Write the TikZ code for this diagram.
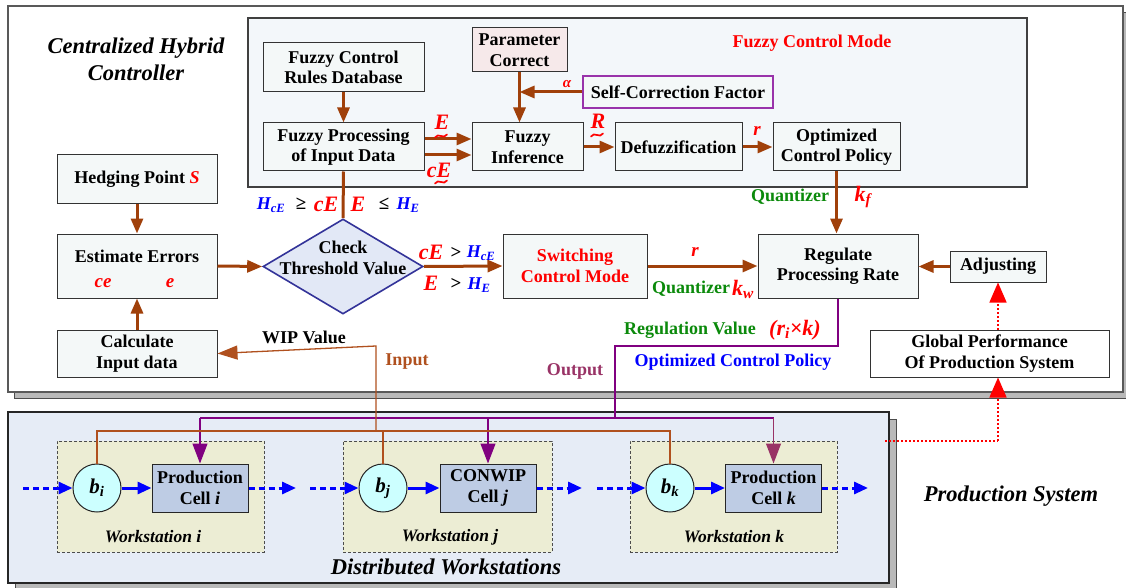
\documentclass[tikz,border=0pt]{standalone}
\usepackage{fontspec}
\IfFontExistsTF{LiberationSerif-Regular.ttf}{%
\setmainfont{LiberationSerif}[Extension=.ttf, UprightFont=*-Regular, BoldFont=*-Bold, ItalicFont=*-Italic, BoldItalicFont=*-BoldItalic]}{%
\setmainfont{Liberation Serif}}
\usetikzlibrary{arrows.meta,shapes.geometric,calc}
\definecolor{brn}{HTML}{A0400A}
\definecolor{wipbrn}{HTML}{B0501E}
\definecolor{bxfill}{HTML}{F4F8F8}
\definecolor{fcmfill}{HTML}{F3F7FA}
\definecolor{pinkfill}{HTML}{F6E9EA}
\definecolor{dmfill}{HTML}{E2E8F6}
\definecolor{dmdraw}{HTML}{333399}
\definecolor{distfill}{HTML}{E6ECF6}
\definecolor{wsfill}{HTML}{ECEDD4}
\definecolor{cellfill}{HTML}{BECCE4}
\definecolor{circfill}{HTML}{CCFFFF}
\definecolor{grn}{HTML}{0B8A0B}
\definecolor{purp}{HTML}{800080}
\definecolor{outp}{HTML}{993366}
\definecolor{selfpurp}{HTML}{9933AA}
\newcommand\bxf{\fontsize{18}{20.5}\selectfont\bfseries}
\newcommand\lblf{\fontsize{22}{24}\selectfont\bfseries\itshape}
\newcommand\hf{\fontsize{18}{20}\selectfont\bfseries\itshape}
\newcommand\wsf{\fontsize{17.5}{20}\selectfont\bfseries\itshape}
\newcommand\ttlf{\fontsize{22.5}{27}\selectfont\bfseries\itshape}
\begin{document}
\begin{tikzpicture}[x=1pt,y=-1pt,
  box/.style={draw=black!80, fill=bxfill, line width=1pt, align=center, inner sep=1pt, font=\bxf},
  frame/.style={draw=black!65, line width=1.2pt, inner sep=0},
  shadowbox/.style={fill=gray!55, draw=black!70, line width=0.8pt},
  barrow/.style={draw=brn, line width=3pt, -{Triangle[length=15pt,width=12pt]}},
  bline/.style={draw=brn, line width=3pt},
  wipline/.style={draw=wipbrn, line width=1.3pt},
  pline/.style={draw=purp, line width=1.3pt},
  parrow/.style={draw=purp, line width=1.3pt, -{Triangle[length=20pt,width=15pt]}},
  bsolid/.style={draw=blue, line width=3pt, -{Triangle[length=14pt,width=12pt]}},
  bdot/.style={bsolid, dash pattern=on 6pt off 4pt},
  rdot/.style={draw=red, line width=1.5pt, dash pattern=on 2pt off 2pt},
  rarrow/.style={rdot, -{Triangle[length=20pt,width=17pt]}},
  wsbox/.style={draw=black!70, fill=wsfill, dash pattern=on 3pt off 2pt, line width=1pt, inner sep=0},
  cellbox/.style={draw=black!85, fill=cellfill, line width=1pt, align=center, inner sep=1pt, font=\bxf, minimum width=96pt, minimum height=48pt},
  buf/.style={circle, draw=black!85, fill=circfill, line width=1pt, minimum size=48pt, inner sep=0, font=\fontsize{21}{24}\selectfont\bfseries\itshape},
  txt/.style={inner sep=0, align=center},
  tildemark/.pic={\draw[red, line width=1.7pt, line cap=round] (-6,1.5) .. controls (-3,-4) and (3,4) .. (6,-1.5);}
]
\useasboundingbox (0,0) rectangle (1126,588);
% ---- frames and shadows
\fill[shadowbox] (14,12) rectangle (1129,398);
\node[frame, fill=white, minimum width=1115pt, minimum height=386pt] (ctrl) at (565.5,199) {};
\fill[shadowbox] (15,419) rectangle (896,590);
\node[frame, draw=black!85, fill=distfill, minimum width=881pt, minimum height=171pt] (dist) at (448.5,497.5) {};
\node[frame, draw=black!75, fill=fcmfill, minimum width=779pt, minimum height=169pt] (fcm) at (637.5,102.5) {};

% ---- titles
\node[txt, font=\ttlf] (ttlctrl) at (136,59) {Centralized Hybrid\\Controller};
\node[txt, font=\bxf, text=red] (ttlfcm) at (812,43) {Fuzzy Control Mode};
\node[txt, font=\ttlf] (ttldist) at (446,567) {Distributed Workstations};
\node[txt, font=\ttlf] (ttlps) at (1011,496) {Production System};

% ---- fuzzy control mode nodes
\node[box, minimum width=161pt, minimum height=49pt] (rules) at (343.5,67.5) {Fuzzy Control\\Rules Database};
\node[box, minimum width=161pt, minimum height=48pt] (proc) at (343.5,147) {Fuzzy Processing\\of Input Data};
\node[box, fill=pinkfill, minimum width=95pt, minimum height=44pt] (param) at (519.5,50) {Parameter\\Correct};
\node[box, draw=selfpurp, line width=1.3pt, minimum width=190pt, minimum height=32pt] (self) at (678,92) {Self-Correction Factor};
\node[box, minimum width=111pt, minimum height=48pt] (infer) at (527.5,147) {Fuzzy\\Inference};
\node[box, minimum width=127pt, minimum height=48pt] (defuzz) at (678.5,147) {Defuzzification};
\node[box, minimum width=127pt, minimum height=48pt] (ocp) at (836.5,147) {Optimized\\Control Policy};

% ---- left column
\node[box, minimum width=160pt, minimum height=48pt] (hedge) at (137,179) {Hedging Point \textcolor{red}{\itshape S}};
\node[box, minimum width=160pt, minimum height=64pt] (est) at (137,266) {};
\node[txt, font=\bxf] (esttxt) at (137,256) {Estimate Errors};
\node[txt, font=\fontsize{19}{21}\selectfont\bfseries\itshape, text=red] (ce) at (103,283) {ce};
\node[txt, font=\fontsize{19}{21}\selectfont\bfseries\itshape, text=red] (ee) at (170,283) {e};
\node[box, minimum width=160pt, minimum height=47pt] (calc) at (137,353.5) {Calculate\\Input data};

% ---- diamond
\node[diamond, draw=dmdraw, fill=dmfill, line width=1.6pt, minimum width=160pt, minimum height=95pt, inner sep=0] (check) at (343,266.5) {};
\node[txt, font=\bxf] (checktxt) at (343,258) {Check\\Threshold Value};

% ---- middle/right
\node[box, text=red, minimum width=144pt, minimum height=64pt] (switch) at (575,266) {Switching\\Control Mode};
\node[box, minimum width=160pt, minimum height=64pt] (reg) at (838,266) {Regulate\\Processing Rate};
\node[box, minimum width=96pt, minimum height=31pt] (adj) at (998,266.5) {Adjusting};
\node[box, fill=white, minimum width=239pt, minimum height=47pt] (glob) at (989.5,353.5) {Global Performance\\Of Production System};

% ---- workstations
\node[wsbox, minimum width=207pt, minimum height=111pt] (wsi) at (160.5,496.5) {};
\node[wsbox, minimum width=209pt, minimum height=111pt] (wsj) at (447.5,496.5) {};
\node[wsbox, minimum width=207pt, minimum height=111pt] (wsk) at (733.5,496.5) {};
\node[txt, font=\wsf] (wsilbl) at (153,537) {Workstation i};
\node[txt, font=\wsf] (wsjlbl) at (450,537) {Workstation j};
\node[txt, font=\wsf] (wsklbl) at (734,537) {Workstation k};
\node[buf] (bi) at (97,488) {b\textsubscript{i}};
\node[buf] (bj) at (383,488) {b\textsubscript{j}};
\node[buf] (bk) at (670,488) {b\textsubscript{k}};
\node[cellbox] (celli) at (200,488) {Production\\Cell \textit{i}};
\node[cellbox] (cellj) at (488,488) {CONWIP\\Cell \textit{j}};
\node[cellbox] (cellk) at (773.5,488) {Production\\Cell \textit{k}};

% ---- fuzzy connectors
\draw[barrow] (rules.south) -- (proc.north);
\draw[barrow] ([yshift=8pt]proc.east) -- ([yshift=8pt]infer.west);
\draw[barrow] ([yshift=-8pt]proc.east) -- ([yshift=-8pt]infer.west);
\draw[barrow] (param.south) -- (param.south |- infer.north);
\draw[barrow] (self.west) -- (param.south |- self.west);
\draw[barrow] (infer.east) -- (defuzz.west);
\draw[barrow] (defuzz.east) -- (ocp.west);
\draw[barrow] (ocp.south) -- (ocp.south |- reg.north);
\draw[bline] (proc.south) -- (check.north);
\draw[barrow] (hedge.south) -- (est.north);
\draw[barrow] (calc.north) -- (est.south);
\draw[barrow] (est.east) -- (check.west);
\draw[barrow] (check.east) -- (switch.west);
\draw[barrow] (switch.east) -- (reg.west);
\draw[barrow] (adj.west) -- (adj.west -| reg.east);

% ---- red feedback
\coordinate (rd1) at (885,441);
\coordinate (rd2) at (998,441);
\draw[rdot] (rd1) -- (rd2);
\draw[rarrow] (rd2) -- (rd2 |- glob.south);
\draw[rarrow] (adj.south |- glob.north) -- (adj.south);

% ---- purple output
\coordinate (o1) at (615,346);
\coordinate (o2) at (615,418);
\draw[pline] (reg.south) |- (o1) -- (o2);
\draw[pline] (celli.north |- o2) -- (cellk.north |- o2);
\draw[parrow] (celli.north |- o2) -- (celli.north);
\draw[parrow] (cellj.north |- o2) -- (cellj.north);
\draw[parrow, draw=outp] (cellk.north |- o2) -- (cellk.north);

% ---- WIP input
\coordinate (w1) at (376,346);
\coordinate (w2) at (376,431);
\draw[wipline, -{Triangle[length=20pt,width=14pt]}] (w2) -- (w1) -- (calc.east);
\draw[wipline] (bi.north) |- (w2);
\draw[wipline] (w2) -| (bk.north);
\draw[wipline] (bj.north) -- (bj.north |- w2);

% ---- blue flow
\coordinate (fi0) at (23,488);
\coordinate (fi1) at (296,488);
\coordinate (fj0) at (310,488);
\coordinate (fj1) at (582,488);
\coordinate (fk0) at (597,488);
\coordinate (fk1) at (868,488);
\draw[bdot] (fi0) -- (bi.west);
\draw[bsolid] (bi.east) -- (celli.west);
\draw[bdot] (celli.east) -- (fi1);
\draw[bdot] (fj0) -- (bj.west);
\draw[bsolid] (bj.east) -- (cellj.west);
\draw[bdot] (cellj.east) -- (fj1);
\draw[bdot] (fk0) -- (bk.west);
\draw[bsolid] (bk.east) -- (cellk.west);
\draw[bdot] (cellk.east) -- (fk1);

% ---- labels
\node[txt, font=\lblf, text=red] (lE) at (442,122) {E};
\pic at (441,136) {tildemark};
\node[txt, font=\lblf, text=red] (lcE) at (439,170) {cE};
\pic at (441,182) {tildemark};
\node[txt, font=\lblf, text=red] (lR) at (598,121) {R};
\pic at (597,135) {tildemark};
\node[txt, font=\fontsize{19}{21}\selectfont\bfseries\itshape, text=red] (lr1) at (757,131) {r};
\node[txt, font=\fontsize{15}{17}\selectfont\bfseries\itshape, text=red] (lal) at (567,84) {α};

\node[txt, font=\hf, text=blue] (lH1) at (271,205) {H\textsubscript{cE}};
\node[txt, font=\fontsize{19}{20}\selectfont\bfseries] (lge) at (301,204) {≥};
\node[txt, font=\lblf, text=red] (lcE2) at (326,204) {cE};
\node[txt, font=\lblf, text=red] (lE2) at (358,204) {E};
\node[txt, font=\fontsize{19}{20}\selectfont\bfseries] (lle) at (384,204) {≤};
\node[txt, font=\hf, text=blue] (lH2) at (408,205) {H\textsubscript{E}};

\node[txt, font=\lblf, text=red] (lcE3) at (431,252) {cE};
\node[txt, font=\fontsize{19}{20}\selectfont\bfseries] (lgt1) at (456,253) {>};
\node[txt, font=\hf, text=blue] (lH3) at (481,253) {H\textsubscript{cE}};
\node[txt, font=\lblf, text=red] (lE3) at (431,283) {E};
\node[txt, font=\fontsize{19}{20}\selectfont\bfseries] (lgt2) at (456,284) {>};
\node[txt, font=\hf, text=blue] (lH4) at (479,285) {H\textsubscript{E}};

\node[txt, font=\fontsize{19}{21}\selectfont\bfseries\itshape, text=red] (lr2) at (695,252) {r};
\node[txt, font=\bxf, text=grn] (lq1) at (691,289) {Quantizer};
\node[txt, font=\lblf, text=red] (lkw) at (743,289) {k\textsubscript{w}};
\node[txt, font=\bxf, text=grn] (lq2) at (790,197) {Quantizer};
\node[txt, font=\lblf, text=red] (lkf) at (863,197) {k\textsubscript{f}};

\node[txt, font=\bxf, text=grn] (lreg) at (690,330) {Regulation Value};
\node[txt, font=\lblf, text=red] (lrk) at (795,330) {(r\textsubscript{i}×k)};
\node[txt, font=\bxf, text=blue] (locp) at (733,362) {Optimized Control Policy};
\node[txt, font=\bxf, text=outp] (lout) at (575,371) {Output};
\node[txt, font=\bxf] (lwip) at (304,337) {WIP Value};
\node[txt, font=\bxf, text=wipbrn] (lin) at (407,362) {Input};
\end{tikzpicture}
\end{document}
